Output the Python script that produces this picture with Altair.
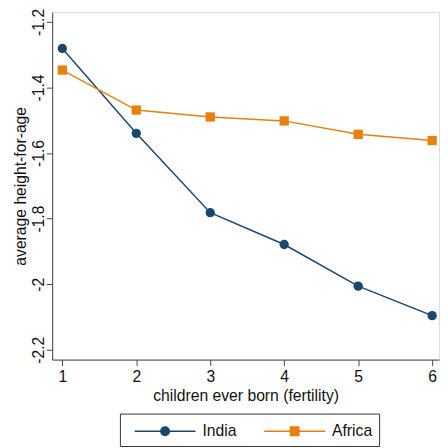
import altair as alt
import pandas as pd

fertility = [1, 2, 3, 4, 5, 6]
india = [-1.281, -1.540, -1.782, -1.879, -2.006, -2.096]
africa = [-1.347, -1.469, -1.490, -1.502, -1.543, -1.562]
series = ["India", "Africa"]
colors = ["#1a476f", "#e8800e"]
y_ticks = [-1.2, -1.4, -1.6, -1.8, -2.0, -2.2]
x_ticks = [1, 2, 3, 4, 5, 6]

rows = []
for f, v in zip(fertility, india):
    rows.append({"fert": f, "hfa": v, "group": "India"})
for f, v in zip(fertility, africa):
    rows.append({"fert": f, "hfa": v, "group": "Africa"})
df = pd.DataFrame(rows)

india_sym = "M-3.1,-0.07H3.1V0.07H-3.1ZM0.5,0A0.5,0.5 0 1 1 -0.5,0A0.5,0.5 0 1 1 0.5,0Z"
africa_sym = "M-3.1,-0.07H3.1V0.07H-3.1ZM-0.5,-0.5H0.5V0.5H-0.5Z"

font = "Liberation Sans"

x = alt.X("fert:Q", title="children ever born (fertility)",
          scale=alt.Scale(domain=[0.863, 6.093], nice=False, zero=False),
          axis=alt.Axis(values=x_ticks, format="d", grid=False, tickSize=6,
                        labelFontSize=16, titleFontSize=16, labelPadding=3,
                        titlePadding=4, labelColor="#111", titleColor="#111",
                        titleFontWeight="normal", labelFont=font, titleFont=font,
                        domainColor="#444", tickColor="#444"))
y = alt.Y("hfa:Q", title="average height-for-age",
          scale=alt.Scale(domain=[-2.230, -1.170], nice=False, zero=False),
          axis=alt.Axis(values=y_ticks, grid=False, tickSize=6, labelAngle=270,
                        labelAlign="center", labelBaseline="bottom",
                        labelFontSize=16, titleFontSize=16, labelPadding=0,
                        titlePadding=2, labelColor="#111", titleColor="#111",
                        titleFontWeight="normal", labelFont=font, titleFont=font,
                        domainColor="#444", tickColor="#444",
                        labelExpr="datum.value == -2 ? '-2' : '-' + format(abs(datum.value), '.1f')"))

legend_props = dict(
    title=None, orient="none", direction="horizontal",
    legendX=69, legendY=409, strokeColor="#333",
    padding=7, symbolSize=400, symbolOpacity=1,
    labelFontSize=16, labelFont=font, labelColor="#111",
    labelOffset=27, columnPadding=20, symbolOffset=28)

lines = alt.Chart(df).mark_line(strokeWidth=1.5).encode(
    x=x, y=y,
    color=alt.Color("group:N", scale=alt.Scale(domain=series, range=colors), legend=None),
    detail="group:N")
points = alt.Chart(df).mark_point(filled=True, opacity=1, size=90).encode(
    x=x, y=y,
    color=alt.Color("group:N", scale=alt.Scale(domain=series, range=colors), legend=None),
    shape=alt.Shape("group:N", scale=alt.Scale(domain=series, range=["circle", "square"]), legend=None))
ghost = alt.Chart(df).mark_point(filled=True, opacity=0, size=1).encode(
    x=x, y=y,
    color=alt.Color("group:N", scale=alt.Scale(domain=series, range=colors),
                    legend=alt.Legend(**legend_props)),
    shape=alt.Shape("group:N", scale=alt.Scale(domain=series, range=[india_sym, africa_sym]),
                    legend=alt.Legend(**legend_props)))

chart = (lines + points + ghost).resolve_scale(shape="independent", color="independent").properties(
    width=394, height=354,
    autosize=alt.AutoSizeParams(type="none"),
    padding={"left": 45, "top": 0, "right": 1, "bottom": 90},
).configure_view(stroke=None).configure(background="white")

chart.save("out.html", embed_options={"renderer": "svg", "actions": False})
